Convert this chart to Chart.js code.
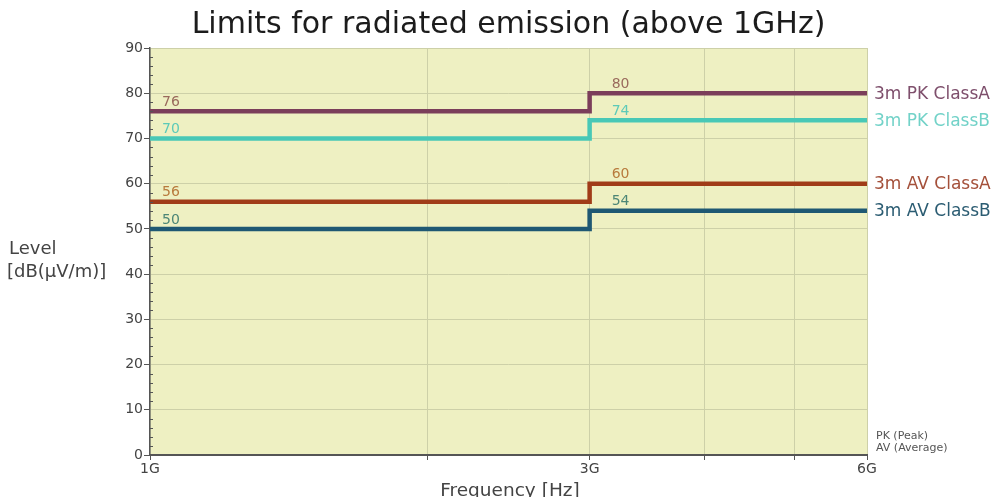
<!DOCTYPE html>
<html lang="en">
<head>
<meta charset="UTF-8">
<title>Limits for radiated emission (above 1GHz)</title>
<script src="https://cdn.jsdelivr.net/npm/chart.js"></script>
<style>
    body { margin: 0; background: #fff; }
    .chart-box { width: 998px; height: 497px; }
</style>
</head>
<body>
<div class="chart-box"><canvas id="limitChart"></canvas></div>
<script>
// break points of the limit lines (Hz)
const freqs = [1e9, 3e9, 6e9];
const seriesNames = ['3m PK ClassA', '3m PK ClassB', '3m AV ClassA', '3m AV ClassB'];
const pkClassA = [76, 80, 80];
const pkClassB = [70, 74, 74];
const avClassA = [56, 60, 60];
const avClassB = [50, 54, 54];
const xTickValues = [1e9, 2e9, 3e9, 4e9, 5e9, 6e9];
const xTickLabels = ['1G', '', '3G', '', '', '6G'];
const notes = ['PK (Peak)', 'AV (Average)'];

const lineColors = ['#7b3e5a', '#48c8b6', '#a03c18', '#1f5873'];
const valueColors = ['#9a6a5c', '#5ccab8', '#b87a3c', '#4c8676'];
const nameColors = ['#7e4f6c', '#72d2c8', '#a4503a', '#2b5c72'];
const gridColor = '#cdd0a8';
const axisColor = '#555';
const fontFam = '"DejaVu Sans", sans-serif';

function toPoints(vals) {
    return freqs.map((f, i) => ({ x: f, y: vals[i] }));
}

const allSeries = [pkClassA, pkClassB, avClassA, avClassB];

const decorPlugin = {
    id: 'decor',
    beforeDraw(chart) {
        const a = chart.chartArea;
        const ctx = chart.ctx;
        ctx.save();
        ctx.fillStyle = '#eef0c2';
        ctx.fillRect(a.left, a.top, a.right - a.left, a.bottom - a.top);
        ctx.restore();
    },
    afterDraw(chart) {
        const a = chart.chartArea;
        const ctx = chart.ctx;
        const xs = chart.scales.x;
        const ys = chart.scales.y;
        ctx.save();

        // minor ticks inside the y axis
        ctx.strokeStyle = axisColor;
        ctx.lineWidth = 1;
        ys.ticks.forEach(t => {
            if (t.value % 10 !== 0) {
                const py = Math.round(ys.getPixelForValue(t.value)) + 0.5;
                ctx.beginPath();
                ctx.moveTo(a.left, py);
                ctx.lineTo(a.left + 3, py);
                ctx.stroke();
            }
        });

        // title
        ctx.fillStyle = '#1c1c1c';
        ctx.font = '30px ' + fontFam;
        ctx.textAlign = 'center';
        ctx.textBaseline = 'middle';
        ctx.fillText('Limits for radiated emission (above 1GHz)', (a.left + a.right) / 2, 25);

        // axis titles
        ctx.fillStyle = '#444';
        ctx.font = '18.5px ' + fontFam;
        ctx.fillText('Frequency [Hz]', 510, 491);
        ctx.textAlign = 'left';
        ctx.font = '18px ' + fontFam;
        ctx.fillText('Level', 9, 249);
        ctx.fillText('[dB(\u03BCV/m)]', 7, 272);

        // value labels at start of each segment
        ctx.font = '14px ' + fontFam;
        allSeries.forEach((vals, s) => {
            ctx.fillStyle = valueColors[s];
            [0, 1].forEach(i => {
                const px = xs.getPixelForValue(freqs[i]) + (i === 0 ? 12 : 22);
                const py = ys.getPixelForValue(vals[i]) - 9;
                ctx.fillText(String(vals[i]), px, py);
            });
        });

        // series names on the right
        ctx.font = '17px ' + fontFam;
        allSeries.forEach((vals, s) => {
            ctx.fillStyle = nameColors[s];
            const py = ys.getPixelForValue(vals[vals.length - 1]) + 1;
            ctx.fillText(seriesNames[s], a.right + 7, py);
        });

        // notes
        ctx.fillStyle = '#555';
        ctx.font = '11px ' + fontFam;
        ctx.fillText(notes[0], a.right + 9, 436);
        ctx.fillText(notes[1], a.right + 9, 448);

        ctx.restore();
    }
};

new Chart(document.getElementById('limitChart'), {
    type: 'line',
    data: {
        datasets: allSeries.map((vals, s) => ({
            label: seriesNames[s],
            data: toPoints(vals),
            borderColor: lineColors[s],
            borderWidth: 4.5,
            pointRadius: 0,
            stepped: true,
            fill: false
        }))
    },
    options: {
        responsive: true,
        maintainAspectRatio: false,
        animation: false,
        layout: { padding: { top: 48, right: 131, left: 0, bottom: 0 } },
        plugins: {
            legend: { display: false },
            tooltip: { enabled: false },
            title: { display: false }
        },
        scales: {
            x: {
                type: 'logarithmic',
                min: 1e9,
                max: 6e9,
                afterBuildTicks: scale => {
                    scale.ticks = xTickValues.map(v => ({ value: v }));
                },
                afterFit: scale => { scale.height = 42; },
                grid: { color: gridColor, tickColor: axisColor, tickLength: 5 },
                border: { color: axisColor, width: 2 },
                ticks: {
                    autoSkip: false,
                    maxRotation: 0,
                    padding: 1,
                    color: '#444',
                    font: { family: fontFam, size: 14 },
                    callback: v => xTickLabels[xTickValues.indexOf(v)]
                }
            },
            y: {
                min: 0,
                max: 90,
                afterFit: scale => { scale.width = 150; },
                grid: {
                    color: c => (c.tick && c.tick.value % 10 === 0) ? gridColor : 'rgba(0,0,0,0)',
                    tickColor: c => (c.tick && c.tick.value % 10 === 0) ? axisColor : 'rgba(0,0,0,0)',
                    tickLength: 6
                },
                border: { color: axisColor, width: 1.5 },
                ticks: {
                    stepSize: 2,
                    autoSkip: false,
                    padding: 1,
                    color: '#444',
                    font: { family: fontFam, size: 14 },
                    callback: v => (v % 10 === 0 ? String(v) : '')
                }
            }
        }
    },
    plugins: [decorPlugin]
});
</script>
</body>
</html>
